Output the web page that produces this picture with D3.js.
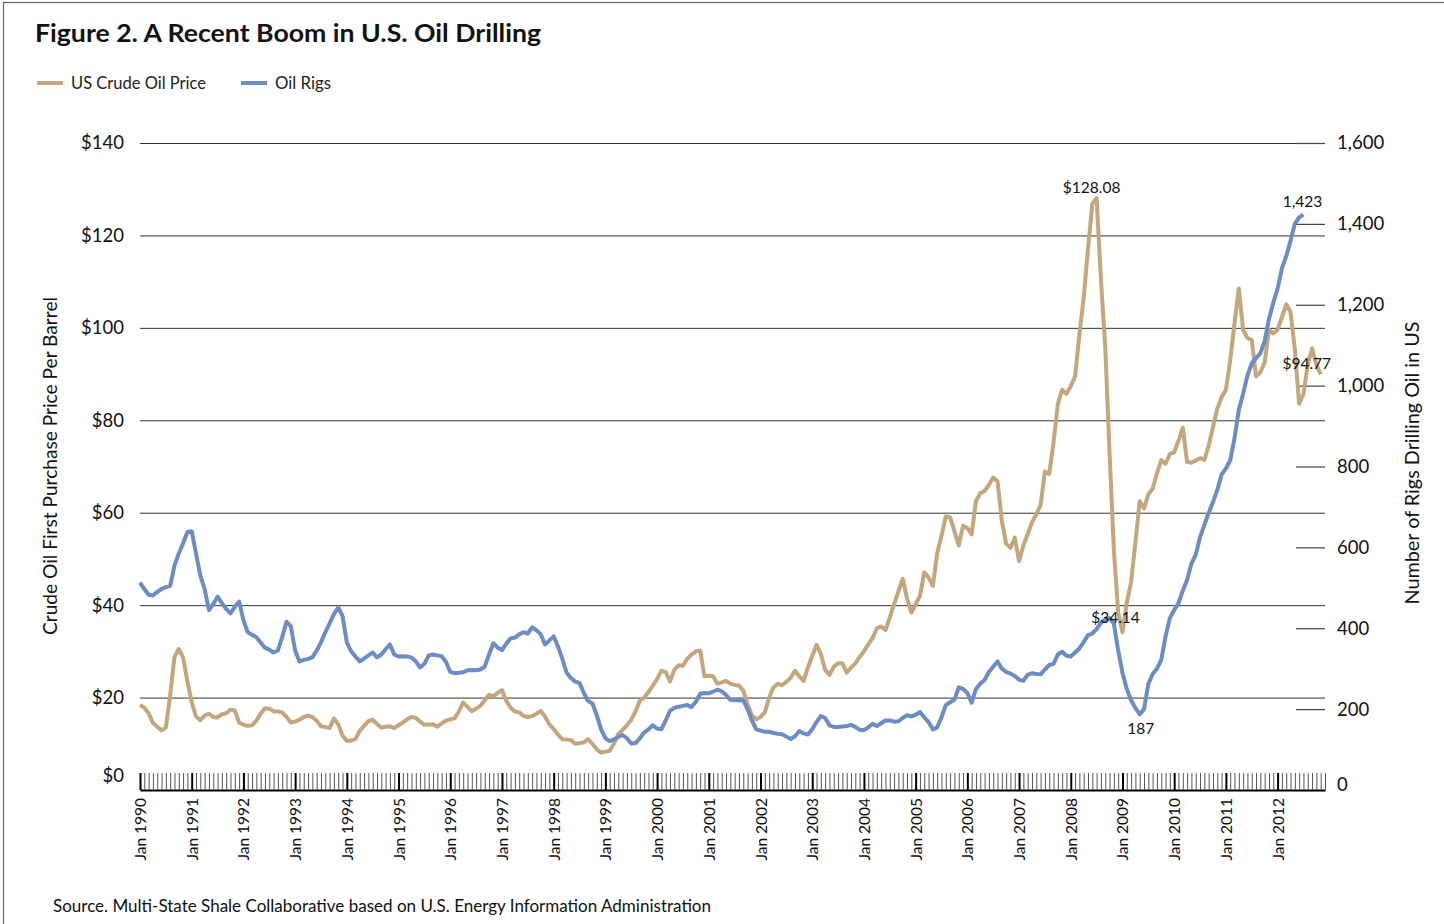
<!DOCTYPE html>
<html>
<head>
<meta charset="utf-8">
<script src="https://cdn.jsdelivr.net/npm/d3@7"></script>
<style>
   body { margin: 0; background: #fff; }
   svg { display: block; font-family: Lato, "Open Sans", sans-serif; }
</style>
</head>
<body>
<svg id="chart" width="1444" height="924"></svg>
<script>
var firstYear = 1990;

var priceTicks = [0, 20, 40, 60, 80, 100, 120, 140];
var rigTicks = [0, 200, 400, 600, 800, 1000, 1200, 1400, 1600];

// US crude oil first purchase price, $ per barrel, monthly from Jan 1990
var oilPrice = [
   18.4, 17.8, 16.6, 14.5, 13.7, 12.9, 13.5, 20.5, 28.8, 30.5, 28.7, 23.5, // 1990
   19.0, 15.9, 15.1, 16.1, 16.5, 15.8, 15.7, 16.4, 16.6, 17.4, 17.2, 14.6, // 1991
   14.1, 13.9, 14.0, 15.0, 16.5, 17.7, 17.6, 17.0, 17.0, 16.8, 15.8, 14.6, // 1992
   14.8, 15.2, 15.8, 16.1, 15.8, 15.0, 13.8, 13.6, 13.4, 15.5, 14.2, 11.8, // 1993
   10.6, 10.7, 11.0, 12.8, 13.9, 14.9, 15.2, 14.3, 13.5, 13.7, 13.8, 13.4, // 1994
   14.0, 14.6, 15.3, 15.8, 15.6, 14.8, 14.1, 14.2, 14.2, 13.7, 14.4, 15.0, // 1995
   15.3, 15.5, 17.0, 18.9, 18.0, 17.0, 17.6, 18.2, 19.4, 20.6, 20.3, 21.0, // 1996
   21.6, 19.3, 17.8, 17.0, 16.8, 16.0, 15.8, 16.0, 16.5, 17.1, 15.9, 14.2, // 1997
   13.2, 12.0, 11.0, 10.9, 10.8, 10.0, 10.1, 10.3, 11.0, 10.0, 8.8, 8.1,   // 1998
   8.3, 8.5, 10.0, 12.1, 13.0, 14.0, 15.2, 17.0, 19.3, 20.0, 21.2, 22.6,   // 1999
   24.0, 25.8, 25.5, 23.5, 26.0, 27.0, 26.9, 28.4, 29.3, 30.0, 30.2, 24.6, // 2000
   24.7, 24.6, 23.0, 23.3, 23.6, 23.0, 22.7, 22.6, 21.5, 18.5, 16.2, 15.3, // 2001
   15.8, 16.8, 20.0, 22.2, 23.0, 22.7, 23.4, 24.3, 25.8, 24.6, 23.6, 26.5, // 2002
   29.0, 31.4, 29.4, 26.0, 24.9, 26.7, 27.4, 27.4, 25.4, 26.5, 27.4, 28.8, // 2003
   30.0, 31.5, 32.9, 35.0, 35.4, 34.6, 37.3, 40.2, 43.0, 45.7, 41.5, 38.4, // 2004
   40.2, 42.0, 47.1, 46.0, 44.2, 51.2, 55.0, 59.2, 59.0, 56.0, 52.9, 57.2, // 2005
   56.7, 55.3, 62.5, 64.2, 64.7, 66.0, 67.6, 66.8, 58.3, 53.3, 52.4, 54.6, // 2006
   49.5, 52.9, 55.4, 57.9, 59.6, 61.7, 68.9, 68.4, 75.2, 83.5, 86.6, 85.7, // 2007
   87.4, 89.5, 98.5, 106.5, 117.0, 126.8, 128.08, 110.5, 96.0, 73.0, 52.0, 38.5, // 2008
   34.14, 40.5, 45.0, 53.5, 62.5, 60.9, 64.0, 65.2, 68.5, 71.4, 70.6, 72.7, // 2009
   73.1, 75.5, 78.4, 71.0, 70.8, 71.3, 71.8, 71.4, 74.5, 78.5, 82.5, 85.0, // 2010
   86.6, 93.0, 101.0, 108.5, 99.5, 97.8, 97.4, 89.5, 90.4, 92.5, 99.6, 98.8, // 2011
   99.6, 102.3, 105.1, 103.4, 95.4, 83.6, 85.7, 92.0, 95.6, 92.0, 89.9       // 2012
];

// oil rigs drilling in the US, monthly from Jan 1990
var oilRigs = [
   513, 497, 483, 481, 490, 497, 502, 505, 555, 585, 610, 638, // 1990
   640, 585, 530, 497, 445, 460, 478, 462, 448, 437, 453, 466, // 1991
   420, 390, 384, 378, 365, 352, 347, 340, 345, 378, 416, 405, // 1992
   345, 318, 322, 324, 328, 345, 365, 390, 412, 435, 452, 430, // 1993
   365, 343, 330, 318, 325, 333, 340, 328, 335, 348, 360, 335, // 1994
   330, 331, 330, 328, 318, 303, 312, 333, 335, 333, 331, 317, // 1995
   292, 289, 290, 291, 296, 297, 296, 298, 305, 335, 363, 352, // 1996
   346, 362, 375, 377, 385, 390, 387, 402, 395, 385, 360, 370, // 1997
   380, 355, 325, 290, 277, 268, 265, 240, 220, 214, 185, 150, // 1998
   128, 121, 125, 131, 136, 128, 115, 116, 128, 142, 150, 160, // 1999
   152, 150, 172, 196, 203, 206, 208, 210, 205, 218, 238, 240, // 2000
   239, 243, 248, 244, 235, 223, 222, 222, 221, 200, 172, 150, // 2001
   147, 144, 144, 141, 139, 138, 132, 126, 133, 146, 140, 137, // 2002
   150, 168, 183, 178, 160, 156, 156, 157, 158, 161, 156, 149, // 2003
   148, 155, 164, 158, 165, 172, 172, 169, 170, 178, 185, 182, // 2004
   186, 193, 180, 168, 150, 155, 180, 210, 217, 223, 254, 250, // 2005
   240, 216, 250, 263, 272, 292, 305, 318, 300, 292, 288, 282, // 2006
   273, 270, 285, 289, 287, 286, 298, 309, 312, 335, 342, 332, // 2007
   330, 340, 350, 366, 383, 387, 398, 414, 422, 425, 412, 345, // 2008
   290, 250, 222, 203, 187, 200, 262, 287, 300, 322, 380, 425, // 2009
   445, 462, 493, 520, 560, 582, 625, 655, 685, 712, 742, 780, // 2010
   795, 815, 870, 940, 980, 1025, 1055, 1068, 1080, 1110, 1165, 1205, // 2011
   1240, 1290, 1320, 1358, 1400, 1416, 1423 // 2012
];

// call-outs: series, month index, value, text, label offset
var callouts = [
   { series: "price", month: 222, value: 128.08, text: "$128.08", dx: -5, dy: -5 },
   { series: "price", month: 228, value: 34.14, text: "$34.14", dx: -7, dy: -9 },
   { series: "price", month: 271, value: 94.77, text: "$94.77", dx: -1, dy: 17 },
   { series: "rigs", month: 270, value: 1423, text: "1,423", dx: -1, dy: -8 },
   { series: "rigs", month: 232, value: 187, text: "187", dx: 1, dy: 20 }
];

var priceColor = "#c3a67e",
   rigColor = "#6b8cc4";

var svg = d3.select("#chart");
var plotLeft = 140,
   plotRight = 1325,
   plotTop = 143,
   plotBottom = 790;
var monthCount = 276;

var x = d3.scaleLinear().domain([0, monthCount - 1]).range([plotLeft, plotRight]);
var yPrice = d3.scaleLinear().domain([0, 140]).range([plotBottom, plotTop]);
var yRigs = d3.scaleLinear().domain([0, 1600]).range([plotBottom, plotTop]);

//Frame
svg.append("rect")
   .attr("x", 3.5).attr("y", 2.5)
   .attr("width", 1460).attr("height", 940)
   .attr("fill", "#fff")
   .attr("stroke", "#666")
   .attr("stroke-width", 1.2);

//Title
svg.append("text")
   .attr("x", 35).attr("y", 42)
   .attr("font-size", 25).attr("font-weight", 700)
   .attr("fill", "#111")
   .attr("textLength", 506).attr("lengthAdjust", "spacingAndGlyphs")
   .text("Figure 2. A Recent Boom in U.S. Oil Drilling");

//Legend
var legend = [
   { name: "US Crude Oil Price", color: priceColor, x: 37, len: 135 },
   { name: "Oil Rigs", color: rigColor, x: 241, len: 56 }
];
var lg = svg.append("g").selectAll("g").data(legend).enter().append("g")
   .attr("transform", (d) => "translate(" + d.x + ",83)");
lg.append("line").attr("x1", 0).attr("x2", 26)
   .attr("stroke", (d) => d.color).attr("stroke-width", 4);
lg.append("text").attr("x", 34).attr("dy", "0.35em")
   .attr("font-size", 16.5).attr("fill", "#222")
   .attr("textLength", (d) => d.len).attr("lengthAdjust", "spacingAndGlyphs")
   .text((d) => d.name);

//Gridlines (price axis)
svg.append("g")
   .attr("transform", "translate(" + plotLeft + ",0)")
   .call(d3.axisLeft(yPrice)
      .tickValues(priceTicks.filter((d) => d > 0))
      .tickSize(-(plotRight - plotLeft))
      .tickFormat(""))
   .call((g) => g.select(".domain").remove())
   .call((g) => g.selectAll("line").attr("stroke", "#333").attr("stroke-width", 1));

//Left axis labels
svg.append("g")
   .attr("transform", "translate(" + plotLeft + ",0)")
   .call(d3.axisLeft(yPrice)
      .tickValues(priceTicks)
      .tickSize(0)
      .tickPadding(16)
      .tickFormat((d) => "$" + d))
   .call((g) => g.select(".domain").remove())
   .call((g) => g.selectAll("text")
      .attr("font-size", 18.5).attr("font-family", "Lato, sans-serif").attr("fill", "#111")
      .attr("transform", (d) => (d === 0 ? "translate(0,-14)" : null)));

//Right axis
svg.append("g")
   .attr("transform", "translate(" + plotRight + ",0)")
   .call(d3.axisRight(yRigs)
      .tickValues(rigTicks)
      .tickSize(-29)
      .tickPadding(12)
      .tickFormat(d3.format(",")))
   .call((g) => g.select(".domain").remove())
   .call((g) => g.selectAll("line").attr("stroke", "#444").attr("stroke-width", 1.2))
   .call((g) => g.selectAll("text")
      .attr("font-size", 18.5).attr("font-family", "Lato, sans-serif").attr("fill", "#111")
      .attr("transform", (d) => (d === 0 ? "translate(0,-5)" : null)));

//Month ticks on x axis
var xAxisG = svg.append("g")
   .attr("transform", "translate(0," + plotBottom + ")")
   .call(d3.axisBottom(x)
      .tickValues(d3.range(0, monthCount))
      .tickSize(-17)
      .tickSizeOuter(0)
      .tickFormat(""));
xAxisG.select(".domain").attr("stroke", "#000").attr("stroke-width", 2);
xAxisG.selectAll(".tick line")
   .attr("stroke", (d) => (d % 12 === 0 ? "#000" : "#555"))
   .attr("stroke-width", (d) => (d % 12 === 0 ? 2 : 1));

//Year labels
svg.append("g").selectAll("text")
   .data(d3.range(0, monthCount, 12))
   .enter()
   .append("text")
   .attr("transform", (d) => "translate(" + (x(d) + 6) + "," + (plotBottom + 8) + ") rotate(-90)")
   .attr("text-anchor", "end")
   .attr("font-size", 15.5)
   .attr("fill", "#111")
   .text((d) => "Jan " + (firstYear + d / 12));

//Lines
var priceLine = d3.line().x((d, i) => x(i)).y((d) => yPrice(d));
var rigLine = d3.line().x((d, i) => x(i)).y((d) => yRigs(d));

svg.append("path")
   .datum(oilPrice)
   .attr("fill", "none")
   .attr("stroke", priceColor)
   .attr("stroke-width", 4)
   .attr("stroke-linejoin", "round")
   .attr("d", priceLine);

svg.append("path")
   .datum(oilRigs)
   .attr("fill", "none")
   .attr("stroke", rigColor)
   .attr("stroke-width", 4)
   .attr("stroke-linejoin", "round")
   .attr("d", rigLine);

//Call-outs
svg.append("g").selectAll("text")
   .data(callouts)
   .enter()
   .append("text")
   .attr("x", (d) => x(d.month) + d.dx)
   .attr("y", (d) => (d.series === "price" ? yPrice(d.value) : yRigs(d.value)) + d.dy)
   .attr("text-anchor", "middle")
   .attr("font-size", 15.5)
   .attr("fill", "#111")
   .text((d) => d.text);

//Axis titles
svg.append("text")
   .attr("transform", "translate(57,466) rotate(-90)")
   .attr("text-anchor", "middle")
   .attr("font-size", 19)
   .attr("fill", "#111")
   .attr("textLength", 338).attr("lengthAdjust", "spacingAndGlyphs")
   .text("Crude Oil First Purchase Price Per Barrel");

svg.append("text")
   .attr("transform", "translate(1419,463) rotate(-90)")
   .attr("text-anchor", "middle")
   .attr("font-size", 19.5)
   .attr("fill", "#111")
   .attr("textLength", 283).attr("lengthAdjust", "spacingAndGlyphs")
   .text("Number of Rigs Drilling Oil in US");

//Source
svg.append("text")
   .attr("x", 53).attr("y", 912)
   .attr("font-size", 16.5)
   .attr("fill", "#111")
   .attr("textLength", 658).attr("lengthAdjust", "spacingAndGlyphs")
   .text("Source. Multi-State Shale Collaborative based on U.S. Energy Information Administration");
</script>
</body>
</html>
